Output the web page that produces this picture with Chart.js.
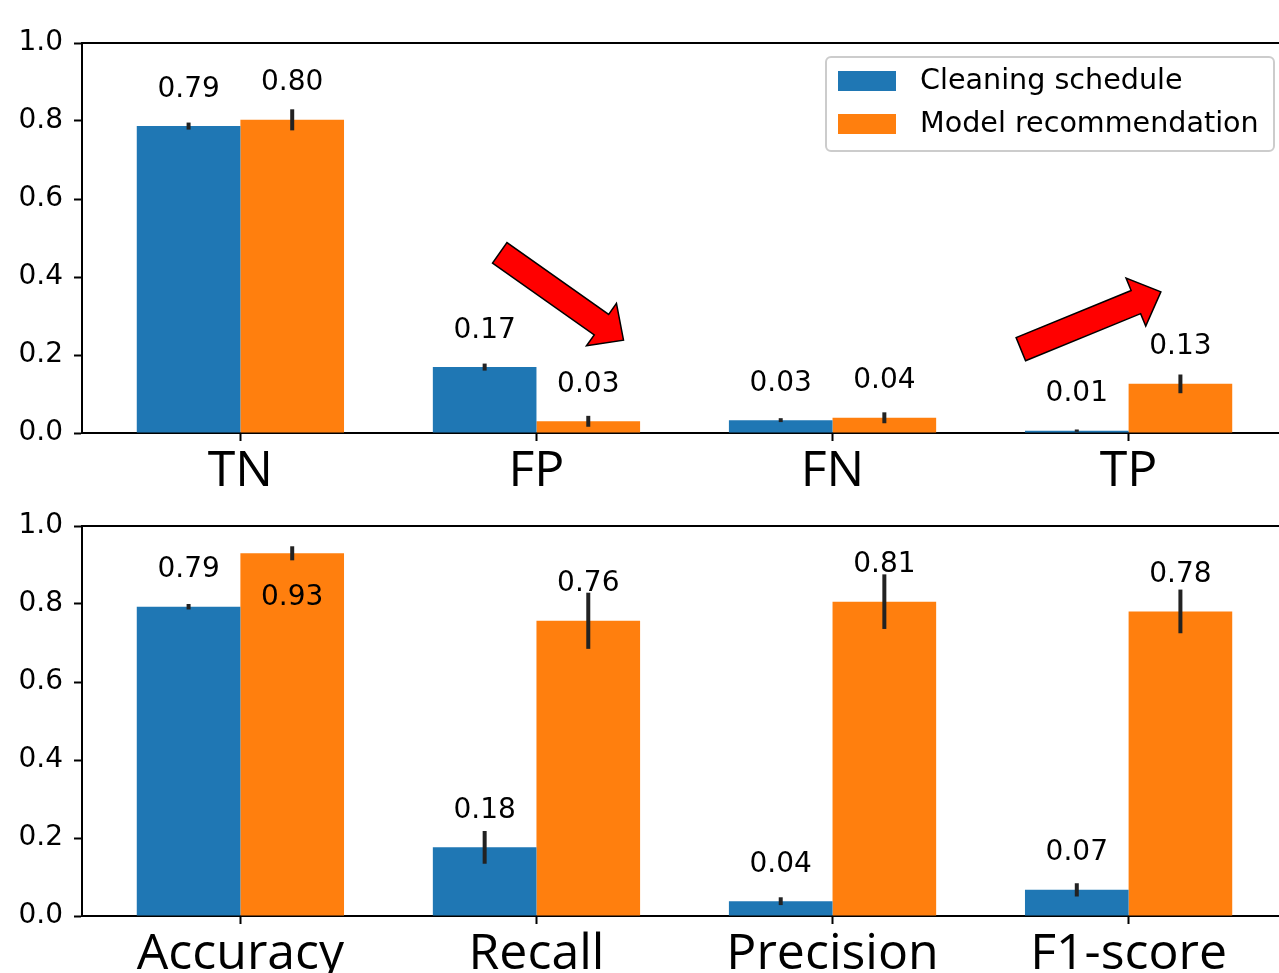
<!DOCTYPE html>
<html>
<head>
<meta charset="utf-8">
<script src="https://cdn.jsdelivr.net/npm/chart.js@4.4.1/dist/chart.umd.min.js"></script>
<style>
  html, body { margin: 0; padding: 0; background: #fff; overflow: hidden; }
  canvas { position: absolute; left: 0; }
  #chartTop { top: 0; }
  #chartBottom { top: 483px; }
</style>
</head>
<body>
<canvas id="chartTop" width="1300" height="490"></canvas>
<canvas id="chartBottom" width="1300" height="490"></canvas>
<script>
// datos
const seriesNames = ['Cleaning schedule', 'Model recommendation'];

const confCategories = ['TN', 'FP', 'FN', 'TP'];
const confSchedule = [0.787, 0.169, 0.033, 0.006];
const confScheduleErr = [0.009, 0.009, 0.005, 0.003];
const confModel = [0.803, 0.030, 0.039, 0.126];
const confModelErr = [0.027, 0.014, 0.014, 0.024];

const metricCategories = ['Accuracy', 'Recall', 'Precision', 'F1-score'];
const metricSchedule = [0.793, 0.176, 0.038, 0.067];
const metricScheduleErr = [0.007, 0.042, 0.010, 0.017];
const metricModel = [0.930, 0.757, 0.806, 0.781];
const metricModelErr = [0.018, 0.072, 0.070, 0.056];

const yTicks = [0, 0.2, 0.4, 0.6, 0.8, 1.0];

// flechas rojas del panel de arriba, en unidades de datos (x = categoria, y = valor)
const topArrows = [
  { from: [0.876, 0.462], to: [1.294, 0.238] },
  { from: [2.636, 0.215], to: [3.109, 0.362] }
];

const BLUE = '#1f77b4';
const ORANGE = '#ff7f0e';

function toPoints(values) {
  return values.map((v, i) => ({ x: i, y: v }));
}

// barras de error
const errorBars = {
  id: 'errorBars',
  afterDatasetsDraw(chart) {
    const ctx = chart.ctx;
    const y = chart.scales.y;
    ctx.save();
    ctx.strokeStyle = '#222';
    ctx.lineWidth = 4;
    chart.data.datasets.forEach((ds, di) => {
      const meta = chart.getDatasetMeta(di);
      meta.data.forEach((bar, i) => {
        const v = ds.data[i].y;
        const e = ds.errors[i];
        ctx.beginPath();
        ctx.moveTo(bar.x, y.getPixelForValue(v - e));
        ctx.lineTo(bar.x, y.getPixelForValue(v + e));
        ctx.stroke();
      });
    });
    ctx.restore();
  }
};

// etiquetas con el valor encima de cada barra
const valueLabels = {
  id: 'valueLabels',
  afterDatasetsDraw(chart) {
    const ctx = chart.ctx;
    const y = chart.scales.y;
    ctx.save();
    ctx.font = '28px "DejaVu Sans"';
    ctx.fillStyle = '#000';
    ctx.textAlign = 'center';
    ctx.textBaseline = 'middle';
    chart.data.datasets.forEach((ds, di) => {
      const meta = chart.getDatasetMeta(di);
      meta.data.forEach((bar, i) => {
        const v = ds.data[i].y;
        let ly = v + 0.094;
        if (ly > 1) ly = v - 0.115; // no se sale del eje
        ctx.fillText(v.toFixed(2), bar.x, y.getPixelForValue(ly));
      });
    });
    ctx.restore();
  }
};

// borde superior y derecho del eje
const frame = {
  id: 'frame',
  afterDraw(chart) {
    const { ctx, chartArea: a } = chart;
    ctx.save();
    ctx.strokeStyle = '#000';
    ctx.lineWidth = 2;
    ctx.beginPath();
    ctx.moveTo(a.left, a.top);
    ctx.lineTo(a.right, a.top);
    ctx.lineTo(a.right, a.bottom);
    ctx.stroke();
    ctx.restore();
  }
};

const arrows = {
  id: 'arrows',
  afterDatasetsDraw(chart, args, opts) {
    if (!opts.list) return;
    const { ctx } = chart;
    const xs = chart.scales.x, ys = chart.scales.y;
    const shaft = 12.5, head = 26, headLen = 27;
    ctx.save();
    opts.list.forEach(a => {
      const x0 = xs.getPixelForValue(a.from[0]), y0 = ys.getPixelForValue(a.from[1]);
      const x1 = xs.getPixelForValue(a.to[0]), y1 = ys.getPixelForValue(a.to[1]);
      const len = Math.hypot(x1 - x0, y1 - y0);
      const ux = (x1 - x0) / len, uy = (y1 - y0) / len;
      const nx = -uy, ny = ux;
      const bx = x1 - ux * headLen, by = y1 - uy * headLen;
      const pts = [
        [x0 + nx * shaft, y0 + ny * shaft],
        [bx + nx * shaft, by + ny * shaft],
        [bx + nx * head, by + ny * head],
        [x1, y1],
        [bx - nx * head, by - ny * head],
        [bx - nx * shaft, by - ny * shaft],
        [x0 - nx * shaft, y0 - ny * shaft]
      ];
      ctx.beginPath();
      pts.forEach((p, i) => i ? ctx.lineTo(p[0], p[1]) : ctx.moveTo(p[0], p[1]));
      ctx.closePath();
      ctx.fillStyle = '#ff0000';
      ctx.fill();
      ctx.strokeStyle = '#000';
      ctx.lineWidth = 1.5;
      ctx.stroke();
    });
    ctx.restore();
  }
};

// leyenda dentro del eje, arriba a la derecha
const boxLegend = {
  id: 'boxLegend',
  afterDraw(chart, args, opts) {
    if (!opts.show) return;
    const { ctx, chartArea: a } = chart;
    const right = a.right - 13, top = a.top + 14;
    const w = 448, h = 94;
    const left = right - w;
    ctx.save();
    ctx.beginPath();
    ctx.roundRect(left, top, w, h, 5);
    ctx.fillStyle = 'rgba(255,255,255,0.8)';
    ctx.fill();
    ctx.strokeStyle = '#cccccc';
    ctx.lineWidth = 2;
    ctx.stroke();
    ctx.font = '28.6px "DejaVu Sans"';
    ctx.textBaseline = 'middle';
    ctx.textAlign = 'left';
    chart.data.datasets.forEach((ds, i) => {
      const cy = top + 24 + i * 43;
      ctx.fillStyle = ds.backgroundColor;
      ctx.fillRect(left + 12, cy - 10, 58, 20);
      ctx.fillStyle = '#000';
      ctx.fillText(ds.label, left + 94, cy + 1);
    });
    ctx.restore();
  }
};

function makeChart(id, categories, sched, schedErr, model, modelErr, extra) {
  const ctx = document.getElementById(id).getContext('2d');
  return new Chart(ctx, {
    type: 'bar',
    data: {
      datasets: [
        { label: seriesNames[0], data: toPoints(sched), errors: schedErr, backgroundColor: BLUE },
        { label: seriesNames[1], data: toPoints(model), errors: modelErr, backgroundColor: ORANGE }
      ]
    },
    options: {
      responsive: false,
      devicePixelRatio: 1,
      animation: false,
      categoryPercentage: 0.7,
      barPercentage: 1.0,
      layout: { padding: { top: 43, right: 13, left: 0, bottom: 0 } },
      plugins: {
        legend: { display: false },
        tooltip: { enabled: false },
        arrows: { list: extra.arrows },
        boxLegend: { show: extra.legend }
      },
      scales: {
        x: {
          type: 'linear',
          offset: false,
          min: -0.535,
          max: 3.535,
          afterBuildTicks: s => { s.ticks = categories.map((c, i) => ({ value: i })); },
          afterFit: s => { s.height = 57; },
          ticks: {
            callback: v => categories[v],
            color: '#000',
            font: { family: '"Open Sans"', size: 50 },
            padding: 1,
            maxRotation: 0,
            autoSkip: false
          },
          grid: { offset: false, drawOnChartArea: false, tickLength: 8, tickColor: '#000', tickWidth: 2 },
          border: { display: true, color: '#000', width: 2 }
        },
        y: {
          min: 0,
          max: 1,
          afterBuildTicks: s => { s.ticks = yTicks.map(v => ({ value: v })); },
          afterFit: s => { s.width = 82; },
          ticks: {
            callback: v => v.toFixed(1),
            color: '#000',
            font: { family: '"DejaVu Sans"', size: 28 },
            padding: 11
          },
          grid: { drawOnChartArea: false, tickLength: 8, tickColor: '#000', tickWidth: 2 },
          border: { display: true, color: '#000', width: 2 }
        }
      }
    },
    plugins: [errorBars, valueLabels, frame, arrows, boxLegend]
  });
}

makeChart('chartTop', confCategories, confSchedule, confScheduleErr, confModel, confModelErr,
  { arrows: topArrows, legend: true });
makeChart('chartBottom', metricCategories, metricSchedule, metricScheduleErr, metricModel, metricModelErr,
  { arrows: null, legend: false });
</script>
</body>
</html>
